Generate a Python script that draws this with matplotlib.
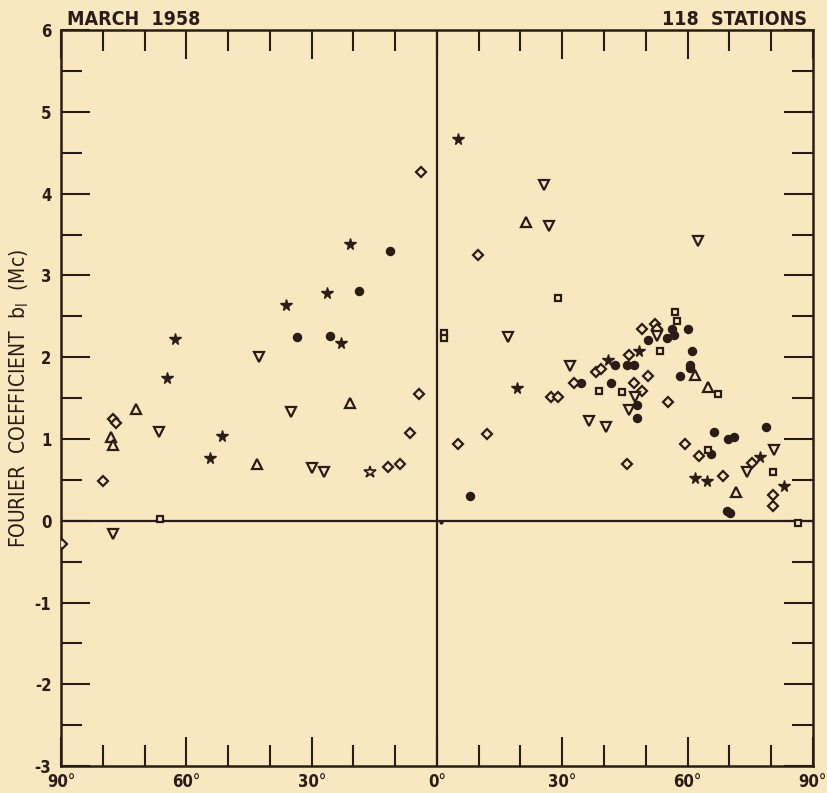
import matplotlib.pyplot as plt
from matplotlib.ticker import MultipleLocator, FixedLocator

# latitude in degrees (negative = left half of chart), coefficient b1 in Mc
star_x = [-64.6, -62.7, -54.4, -51.4, -36.1, -26.4, -22.9, -20.8,
          5.1, 19.1, 40.9, 48.3, 77.3, 61.9, 64.7, 83.1]
star_y = [1.74, 2.22, 0.77, 1.04, 2.64, 2.78, 2.17, 3.39,
          4.67, 1.62, 1.96, 2.07, 0.78, 0.52, 0.49, 0.43]

open_star_x = [-16.1]
open_star_y = [0.60]

dot_x = [-33.6, -25.5, -18.7, -11.2,
         7.9, 34.6, 41.6, 42.6, 45.5, 47.3, 47.9, 47.9, 50.6, 55.0, 56.2,
         56.7, 60.2, 61.1, 60.6, 60.6, 58.3, 66.3, 69.8, 71.1, 78.7, 69.4,
         70.1, 65.5]
dot_y = [2.25, 2.26, 2.81, 3.30,
         0.30, 1.69, 1.69, 1.90, 1.91, 1.90, 1.42, 1.26, 2.21, 2.24, 2.34,
         2.27, 2.34, 2.07, 1.90, 1.87, 1.77, 1.09, 1.00, 1.02, 1.15, 0.12,
         0.10, 0.82]

diamond_x = [-89.7, -79.9, -77.6, -76.8, -11.6, -8.8, -6.5, -4.2, -3.8,
             9.9, 12.1, 5.0, 38.0, 39.2, 32.8, 27.3, 29.1, 45.9, 49.0, 52.2,
             52.8, 50.5, 47.2, 49.0, 55.3, 45.4, 59.5, 62.8, 75.4, 68.6,
             80.5, 80.5]
diamond_y = [-0.29, 0.49, 1.25, 1.20, 0.66, 0.69, 1.07, 1.55, 4.26,
             3.25, 1.06, 0.94, 1.82, 1.86, 1.69, 1.51, 1.51, 2.03, 2.35, 2.41,
             2.35, 1.77, 1.69, 1.59, 1.45, 0.69, 0.94, 0.79, 0.70, 0.55,
             0.31, 0.18]

square_x = [-66.3, 1.7, 1.7, 29.0, 38.8, 44.3, 53.3, 57.0, 57.5, 67.2,
            64.9, 80.5, 86.4]
square_y = [0.02, 2.30, 2.23, 2.72, 1.59, 1.58, 2.08, 2.55, 2.44, 1.55,
            0.86, 0.59, -0.03]

tri_up_x = [-78.0, -77.6, -72.0, -43.1, -20.9, 21.4, 61.8, 65.0, 71.7]
tri_up_y = [1.02, 0.93, 1.37, 0.69, 1.44, 3.65, 1.78, 1.64, 0.35]

tri_down_x = [-77.5, -66.6, -42.6, -34.9, -29.8, -27.0,
              25.7, 26.8, 16.9, 31.8, 36.3, 40.4, 52.6, 47.5, 46.0, 80.7,
              74.2, 62.4]
tri_down_y = [-0.16, 1.08, 2.00, 1.33, 0.64, 0.60,
              4.11, 3.61, 2.25, 1.89, 1.22, 1.15, 2.26, 1.51, 1.35, 0.86,
              0.59, 3.42]

tiny_x = [1.0]
tiny_y = [-0.01]

xtick_pos = [-90, -60, -30, 0, 30, 60, 90]
xtick_lab = ['90°', '60°', '30°', '0°', '30°', '60°', '90°']

bg = '#f9e7c0'
ink = '#2b1c17'
plt.rcParams['axes.unicode_minus'] = False
plt.rcParams['font.family'] = ['DejaVu Sans']
plt.rcParams['font.stretch'] = 'condensed'

fig = plt.figure(figsize=(8.28, 7.93), dpi=100, facecolor=bg)
ax = fig.add_axes([0.0737, 0.034, 0.908, 0.928], facecolor=bg)

ax.axhline(0, color=ink, lw=1.6, zorder=1)
ax.axvline(0, color=ink, lw=1.6, zorder=1)

mew = 1.6
ax.plot(star_x, star_y, ls='none', marker='*', ms=8.5, color=ink, zorder=3)
ax.plot(open_star_x, open_star_y, ls='none', marker='*', ms=9, mfc=bg, mec=ink,
        mew=1.2, zorder=3)
ax.plot(dot_x, dot_y, ls='none', marker='o', ms=5.8, color=ink, zorder=3)
ax.plot(diamond_x, diamond_y, ls='none', marker='D', ms=4.6, mfc=bg, mec=ink,
        mew=mew, zorder=3)
ax.plot(square_x, square_y, ls='none', marker='s', ms=5, mfc=bg, mec=ink,
        mew=mew, zorder=3)
ax.plot(tri_up_x, tri_up_y, ls='none', marker='^', ms=6.5, mfc=bg, mec=ink,
        mew=mew, zorder=3)
ax.plot(tri_down_x, tri_down_y, ls='none', marker='v', ms=6.5, mfc=bg, mec=ink,
        mew=mew, zorder=3)
ax.plot(tiny_x, tiny_y, ls='none', marker='o', ms=2, color=ink, zorder=3)

ax.set_xlim(-90, 90)
ax.set_ylim(-3, 6)

for s in ax.spines.values():
    s.set_color(ink)
    s.set_linewidth(1.8)

ax.xaxis.set_major_locator(FixedLocator(xtick_pos))
ax.xaxis.set_minor_locator(MultipleLocator(10))
ax.set_xticklabels(xtick_lab)
ax.yaxis.set_major_locator(MultipleLocator(1))
ax.yaxis.set_minor_locator(MultipleLocator(0.5))

ax.tick_params(which='both', direction='in', top=True, right=True, colors=ink,
               width=1.5)
ax.tick_params(which='major', length=21)
ax.tick_params(which='minor', length=15)
ax.tick_params(axis='x', pad=5)
ax.tick_params(axis='y', pad=7)

for lab in ax.get_xticklabels() + ax.get_yticklabels():
    lab.set_fontsize(12)
    lab.set_fontweight('bold')
    lab.set_color(ink)

ax.set_ylabel('FOURIER  COEFFICIENT  b$_\\mathregular{I}$  (Mc)',
              fontsize=15, color=ink, labelpad=3)

fig.text(0.081, 0.964, 'MARCH  1958', fontsize=14, fontweight='bold',
         color=ink, ha='left', va='bottom')
fig.text(0.975, 0.964, '118  STATIONS', fontsize=14, fontweight='bold',
         color=ink, ha='right', va='bottom')

fig.savefig('out.png', dpi=100, facecolor=bg)
